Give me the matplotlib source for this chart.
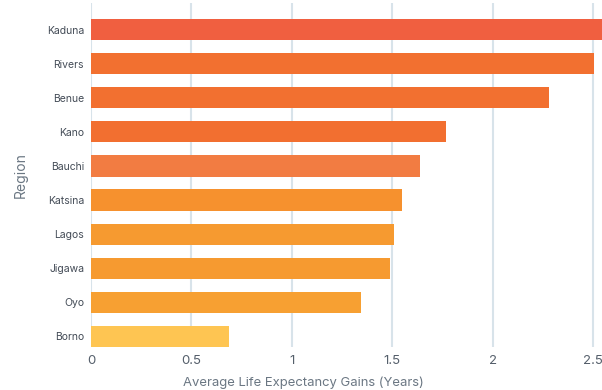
import matplotlib
matplotlib.use("Agg")
import matplotlib.pyplot as plt

regions = ["Kaduna", "Rivers", "Benue", "Kano", "Bauchi", "Katsina", "Lagos", "Jigawa", "Oyo", "Borno"]
gains = [2.56, 2.505, 2.28, 1.77, 1.64, 1.55, 1.51, 1.49, 1.345, 0.687]
colors = ["#F05F40", "#F27030", "#F27030", "#F26F30", "#F27C42", "#F6912E", "#F69A30", "#F69A30", "#F7A032", "#FEC552"]
xticks = [0, 0.5, 1, 1.5, 2, 2.5]
xticklabels = ["0", "0.5", "1", "1.5", "2", "2.5"]

plt.rcParams['font.family'] = ['Inter', 'DejaVu Sans']
fig = plt.figure(figsize=(6.02, 3.90), dpi=100)
ax = fig.add_axes([91/602, 43/390, 1 - 91/602, (347-3)/390])

ypos = list(range(len(regions)))
ax.barh(ypos, gains, height=0.62, color=colors, zorder=3)
ax.set_ylim(len(regions) - 1 + 0.31, -0.78)
ax.set_xlim(0, 2.545)
ax.set_yticks(ypos)
ax.set_yticklabels(regions, fontsize=7.5, color="#444c57")
ax.set_xticks(xticks)
ax.set_xticklabels(xticklabels, fontsize=9.5, color="#555f6b")
ax.tick_params(axis="both", length=0)
ax.tick_params(axis="y", pad=5)
ax.tick_params(axis="x", pad=6)
ax.grid(axis="x", color="#d8e3ea", linewidth=1.5, zorder=0)
for s in ax.spines.values():
    s.set_visible(False)
ax.set_xlabel("Average Life Expectancy Gains (Years)", fontsize=9.4, color="#6b7783", labelpad=6)
ax.xaxis.set_label_coords((303 - 91) / 511, -0.085)
ax.set_ylabel("Region", fontsize=10, color="#6b7783", labelpad=14)

fig.savefig("out.png", dpi=100)
